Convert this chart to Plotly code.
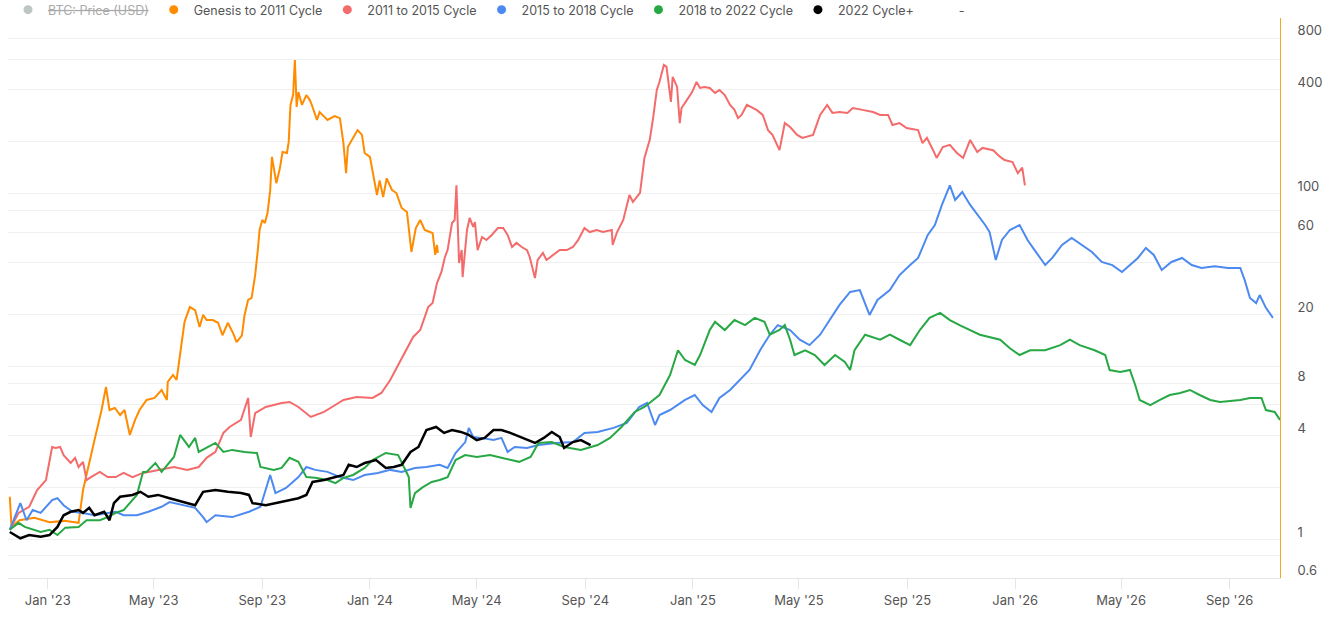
import math
import pandas as pd
import plotly.graph_objects as go

# day 0 of every cycle is mapped onto the 2022 cycle bottom
CYCLE_START = pd.Timestamp("2022-11-19")

# (days since cycle bottom, ROI multiple)
genesis_2011 = [
    (0, 1.60), (2, 1.07), (11, 1.17), (28, 1.21), (45, 1.14), (62, 1.16), (78, 1.13), (83, 1.75), (96, 3.41), (104, 5.09),
    (109, 6.92), (113, 5.09), (119, 5.23), (125, 4.76), (130, 5.09), (136, 3.65), (142, 4.46), (147, 5.09), (155, 5.82), (164, 5.98),
    (172, 6.65), (178, 5.82), (179, 7.40), (185, 8.12), (189, 7.60), (195, 12.9), (198, 16.5), (204, 20.1), (210, 19.3), (215, 15.4),
    (219, 18.1), (223, 16.9), (230, 16.9), (236, 16.3), (241, 13.8), (247, 16.3), (253, 14.2), (257, 12.6), (263, 13.8), (266, 18.1),
    (270, 22.1), (274, 22.7), (278, 30.8), (281, 43.0), (283, 56.2), (286, 64.2), (289, 61.7), (292, 70.5), (295, 95.0), (297, 149),
    (299, 128), (302, 105), (306, 128), (309, 159), (314, 157), (316, 182), (318, 298), (321, 340), (323, 543), (325, 290),
    (327, 354), (331, 298), (336, 340), (340, 318), (343, 290), (348, 244), (351, 271), (360, 244), (368, 257), (374, 250),
    (378, 179), (381, 120), (383, 170), (389, 194), (394, 213), (399, 200), (402, 157), (408, 149), (411, 125), (416, 89.6),
    (419, 109), (423, 87.3), (427, 112), (433, 95.8), (438, 92.0), (444, 75.4), (450, 71.4), (455, 41.9), (460, 57.7), (465, 64.2),
    (470, 56.2), (476, 54.7), (479, 54.0), (482, 40.3), (484, 46.0), (485, 41.4),
]

cycle_2011_2015 = [
    (0, 1.03), (10, 1.29), (22, 1.40), (31, 1.75), (41, 2.00), (48, 3.11), (52, 3.07), (57, 3.11), (61, 2.79), (69, 2.51),
    (74, 2.69), (78, 2.38), (83, 2.55), (87, 2.00), (92, 2.08), (96, 2.14), (102, 2.23), (111, 2.08), (120, 2.08), (129, 2.20),
    (139, 2.08), (151, 2.20), (168, 2.29), (186, 2.38), (201, 2.29), (214, 2.38), (223, 2.69), (233, 2.91), (242, 3.75), (249, 4.06),
    (262, 4.46), (270, 5.98), (273, 3.55), (278, 4.89), (290, 5.30), (308, 5.59), (317, 5.67), (327, 5.30), (341, 4.64), (356, 4.96),
    (365, 5.30), (378, 5.82), (393, 6.06), (411, 5.98), (421, 6.39), (431, 7.60), (440, 9.28), (451, 11.8), (457, 13.5), (465, 14.8),
    (470, 17.6), (474, 20.1), (479, 21.2), (484, 27.7), (489, 32.1), (493, 39.2), (496, 43.0), (501, 61.7), (504, 64.2), (506, 102),
    (509, 36.2), (512, 43.0), (513, 30.0), (518, 56.2), (521, 66.0), (525, 58.5), (527, 62.5), (530, 43.0), (535, 51.2), (540, 49.2),
    (546, 52.6), (553, 57.7), (559, 57.7), (564, 52.6), (569, 44.8), (574, 47.3), (580, 44.8), (586, 43.0), (589, 39.2), (593, 33.0),
    (595, 29.6), (598, 37.7), (604, 41.4), (608, 37.7), (615, 40.3), (623, 43.0), (631, 43.0), (638, 44.8), (644, 49.2), (651, 57.7),
    (657, 54.7), (665, 56.2), (672, 54.7), (682, 56.2), (683, 46.0), (688, 54.7), (695, 64.2), (702, 89.7), (706, 81.7), (714, 92.1),
    (719, 147), (725, 187), (729, 254), (733, 364), (736, 405), (741, 508), (744, 495), (749, 310), (751, 433), (756, 379),
    (759, 234), (761, 286), (767, 318), (773, 354), (778, 405), (782, 374), (787, 379), (793, 374), (799, 350), (804, 364),
    (810, 340), (816, 298), (821, 279), (825, 250), (829, 261), (835, 298), (846, 279), (853, 261), (859, 213), (864, 200),
    (872, 163), (878, 234), (884, 222), (892, 200), (898, 192), (910, 200), (918, 261), (926, 298), (932, 268), (940, 271),
    (949, 268), (955, 286), (966, 279), (978, 271), (986, 261), (995, 261), (1000, 228), (1008, 234), (1016, 219), (1029, 213),
    (1034, 179), (1039, 192), (1046, 163), (1050, 147), (1057, 170), (1065, 175), (1073, 157), (1080, 147), (1088, 187), (1096, 159),
    (1102, 168), (1114, 163), (1122, 149), (1127, 143), (1136, 139), (1142, 120), (1147, 129), (1150, 102),
]

cycle_2015_2018 = [
    (0, 1.03), (12, 1.47), (19, 1.17), (26, 1.34), (35, 1.29), (48, 1.53), (54, 1.57), (61, 1.43), (71, 1.31), (83, 1.29),
    (96, 1.25), (111, 1.29), (120, 1.31), (129, 1.25), (144, 1.25), (157, 1.31), (172, 1.40), (181, 1.49), (196, 1.43), (210, 1.38),
    (219, 1.22), (223, 1.14), (233, 1.25), (252, 1.22), (271, 1.31), (284, 1.40), (295, 2.14), (301, 1.68), (313, 1.80), (327, 2.08),
    (336, 2.38), (346, 2.29), (360, 2.23), (374, 2.08), (389, 2.00), (402, 2.14), (417, 2.20), (431, 2.29), (444, 2.23), (459, 2.35),
    (472, 2.38), (487, 2.45), (496, 2.35), (505, 2.87), (516, 3.32), (520, 4.01), (525, 3.55), (534, 3.51), (548, 3.41), (557, 3.51),
    (564, 2.91), (572, 3.11), (586, 3.07), (599, 3.19), (619, 3.28), (638, 3.32), (651, 3.75), (666, 3.80), (684, 4.01), (699, 4.28),
    (713, 5.30), (722, 5.59), (731, 4.17), (736, 4.76), (748, 5.09), (765, 5.82), (776, 6.22), (785, 5.44), (795, 4.96), (804, 5.98),
    (816, 6.65), (827, 7.60), (838, 8.68), (850, 11.3), (861, 13.9), (870, 15.8), (884, 14.8), (895, 13.0), (906, 12.1), (918, 13.9),
    (929, 16.9), (940, 20.7), (952, 24.6), (963, 25.2), (974, 18.1), (983, 22.1), (997, 25.2), (1008, 30.8), (1020, 35.2), (1029, 38.7),
    (1040, 52.6), (1048, 60.1), (1056, 78.5), (1065, 102), (1071, 83.9), (1079, 93.3), (1088, 78.5), (1097, 68.7), (1105, 60.1), (1110, 54.7),
    (1117, 37.7), (1124, 49.2), (1133, 56.2), (1144, 60.1), (1153, 49.2), (1161, 43.0), (1173, 35.2), (1181, 38.7), (1192, 46.0), (1203, 50.5),
    (1215, 46.0), (1226, 41.9), (1237, 36.7), (1249, 35.2), (1260, 32.1), (1269, 35.2), (1278, 38.7), (1287, 44.2), (1296, 40.3), (1305, 33.0),
    (1316, 36.7), (1328, 38.7), (1339, 35.2), (1350, 33.9), (1365, 34.6), (1380, 33.9), (1394, 33.9), (1399, 28.8), (1405, 22.7), (1412, 21.2),
    (1416, 23.6), (1423, 19.9), (1431, 17.4),
]

cycle_2018_2022 = [
    (0, 1.03), (10, 1.13), (17, 1.07), (26, 1.03), (35, 1.00), (45, 1.03), (54, 0.96), (63, 1.06), (78, 1.07), (87, 1.17),
    (102, 1.17), (111, 1.22), (120, 1.29), (129, 1.34), (144, 1.64), (151, 2.23), (155, 2.23), (165, 2.51), (172, 2.23), (186, 2.72),
    (193, 3.65), (203, 3.11), (210, 3.51), (214, 2.91), (223, 3.07), (233, 3.28), (242, 2.91), (252, 2.99), (266, 2.91), (280, 2.87),
    (284, 2.38), (299, 2.29), (308, 2.35), (317, 2.69), (327, 2.55), (336, 2.08), (346, 2.06), (360, 2.00), (369, 1.92), (378, 2.06),
    (389, 2.14), (402, 2.35), (411, 2.61), (426, 2.87), (440, 2.79), (448, 2.29), (452, 2.08), (454, 1.38), (459, 1.68), (468, 1.82),
    (478, 1.95), (487, 2.00), (496, 2.08), (505, 2.61), (516, 2.79), (529, 2.72), (544, 2.79), (557, 2.69), (577, 2.55), (590, 2.72),
    (599, 3.28), (614, 3.32), (628, 3.11), (647, 2.99), (666, 3.19), (680, 3.51), (693, 4.06), (708, 4.96), (719, 5.30), (736, 6.22),
    (748, 8.12), (757, 11.3), (765, 9.92), (776, 9.28), (782, 10.6), (793, 14.8), (799, 16.5), (810, 14.8), (821, 16.9), (833, 15.8),
    (844, 17.4), (855, 16.5), (861, 13.9), (872, 14.8), (878, 15.8), (884, 13.0), (889, 10.6), (901, 11.3), (912, 10.6), (923, 9.28),
    (935, 10.6), (946, 9.66), (952, 8.68), (957, 11.3), (969, 13.9), (986, 13.0), (997, 13.9), (1008, 13.0), (1020, 12.1), (1031, 14.8),
    (1042, 17.4), (1054, 18.6), (1065, 16.9), (1076, 15.8), (1088, 14.8), (1099, 13.9), (1122, 13.0), (1133, 11.6), (1144, 10.6), (1156, 11.3),
    (1173, 11.3), (1190, 12.1), (1201, 13.0), (1212, 12.1), (1229, 11.3), (1241, 10.6), (1246, 8.68), (1258, 8.45), (1269, 8.68), (1275, 7.11),
    (1280, 5.82), (1292, 5.44), (1303, 5.82), (1314, 6.22), (1326, 6.39), (1337, 6.65), (1348, 6.22), (1360, 5.82), (1371, 5.67), (1394, 5.82),
    (1405, 5.98), (1418, 5.98), (1423, 5.09), (1433, 4.96), (1439, 4.46),
]

cycle_2022 = [
    (0, 1.00), (12, 0.92), (22, 0.96), (35, 0.94), (45, 0.96), (54, 1.07), (61, 1.25), (69, 1.31), (78, 1.34), (83, 1.29),
    (90, 1.38), (96, 1.25), (107, 1.31), (113, 1.17), (118, 1.47), (125, 1.60), (139, 1.64), (148, 1.71), (157, 1.60), (168, 1.64),
    (181, 1.57), (196, 1.49), (210, 1.43), (219, 1.71), (233, 1.75), (247, 1.71), (262, 1.68), (271, 1.64), (275, 1.47), (290, 1.43),
    (308, 1.49), (327, 1.57), (336, 1.64), (343, 1.95), (356, 2.00), (369, 2.08), (378, 2.14), (384, 2.45), (393, 2.38), (402, 2.51),
    (415, 2.61), (426, 2.35), (435, 2.38), (444, 2.45), (454, 2.91), (463, 3.11), (472, 3.90), (483, 4.06), (492, 3.75), (501, 3.90),
    (511, 3.80), (520, 3.65), (529, 3.41), (538, 3.51), (548, 3.90), (557, 3.90), (567, 3.75), (581, 3.51), (595, 3.28), (605, 3.51),
    (614, 3.80), (623, 3.55), (628, 3.07), (638, 3.32), (647, 3.41), (658, 3.19),
]

SERIES = [
    ("Genesis to 2011 Cycle", genesis_2011, "#FF8C00", 2),
    ("2011 to 2015 Cycle", cycle_2011_2015, "#F46B6B", 2),
    ("2015 to 2018 Cycle", cycle_2015_2018, "#4D8AF0", 2),
    ("2018 to 2022 Cycle", cycle_2018_2022, "#27A844", 2),
    ("2022 Cycle+", cycle_2022, "#000000", 2.5),
]

Y_TICKS = [0.6, 1, 4, 8, 20, 60, 100, 400, 800]
GRID_TICKS = [m * 10 ** e for e in range(-1, 3) for m in (1, 2, 4, 6, 8)]
Y_RANGE = [-0.2665, 2.978]
GRID_SHIFT = math.log10(0.91)


def to_xy(points):
    days, roi = zip(*points)
    return CYCLE_START + pd.to_timedelta(list(days), unit="D"), list(roi)


fig = go.Figure()

# legend-only entries (dots like the original)
fig.add_trace(go.Scatter(x=[None], y=[None], mode="markers", name="<s>BTC: Price (USD)</s>",
                         marker=dict(color="#7f8c8d", size=9), visible="legendonly", yaxis="y2"))
for name, points, color, width in SERIES:
    fig.add_trace(go.Scatter(x=[None], y=[None], mode="markers", name=name, legendgroup=name,
                             marker=dict(color=color, size=9)))
fig.add_trace(go.Scatter(x=[None], y=[None], mode="markers", name="-", yaxis="y2",
                         marker=dict(color="rgba(0,0,0,0)", size=9)))

for name, points, color, width in SERIES:
    x, y = to_xy(points)
    fig.add_trace(go.Scatter(x=x, y=y, mode="lines", name=name, legendgroup=name, showlegend=False,
                             line=dict(color=color, width=width)))

fig.update_layout(
    width=1333,
    height=622,
    margin=dict(l=8, r=53, t=18, b=44, autoexpand=False),
    paper_bgcolor="white",
    plot_bgcolor="white",
    font=dict(family="Inter", size=13, color="#555555"),
    legend=dict(orientation="h", yref="paper", x=0, y=1.041,
                xanchor="left", yanchor="top", font=dict(size=12.5, color="#555555"),
                bgcolor="rgba(0,0,0,0)"),
    xaxis=dict(type="date", range=["2022-11-17", "2026-10-28"], tickformat="%b '%y",
               dtick="M4", tick0="2023-01-01", showgrid=False, showline=True,
               linecolor="#e6e6e6", ticks="outside", ticklen=10, tickcolor="#e6e6e6",
               zeroline=False),
    yaxis=dict(type="log", side="right", range=Y_RANGE, tickvals=Y_TICKS,
               ticktext=[f"{v:g}" for v in Y_TICKS], showgrid=False, showline=True,
               linecolor="#F5A623", ticks="", ticklabelstandoff=14, zeroline=False),
    yaxis2=dict(type="log", overlaying="y", side="left",
                range=[Y_RANGE[0] - GRID_SHIFT, Y_RANGE[1] - GRID_SHIFT],
                tickvals=GRID_TICKS, showticklabels=False, showgrid=True,
                gridcolor="#f0f0f0", ticks="", showline=False, zeroline=False),
)

# the page's default body margin would shift the chart by 8px
fig.write_html("out.html", config={"displayModeBar": False},
               post_script="document.body.style.margin = '0';")
